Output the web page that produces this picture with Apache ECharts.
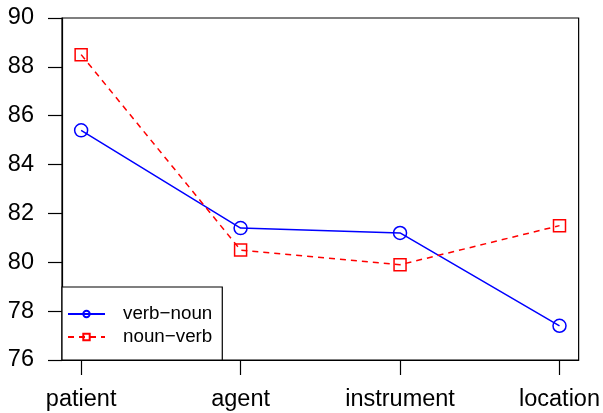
<!DOCTYPE html>
<html>
<head>
<meta charset="utf-8">
<script src="https://cdn.jsdelivr.net/npm/echarts@6/dist/echarts.min.js"></script>
<style>
html,body{margin:0;padding:0;background:#fff;}
#c{width:603px;height:413px;}
</style>
</head>
<body>
<div id="c"></div>
<script>
const categories = ['patient', 'agent', 'instrument', 'location'];
const verbNoun = [85.4, 81.4, 81.2, 77.4];
const nounVerb = [88.5, 80.5, 79.9, 81.5];
const yTicks = [76, 78, 80, 82, 84, 86, 88, 90];
const FONT = "'Liberation Sans', Arial, Helvetica, sans-serif";

const positions = categories.map((c, i) => i + 1);
const toData = arr => arr.map((v, i) => [positions[i], v]);

const chart = echarts.init(document.getElementById('c'), null, {renderer: 'canvas'});
chart.setOption({
  backgroundColor: '#fff',
  animation: false,
  grid: {left: 62, right: 22, top: 18, bottom: 53, show: true, borderColor: '#000', borderWidth: 1.2, backgroundColor: 'transparent'},
  xAxis: {
    type: 'value', min: 0.88, max: 4.12,
    axisLine: {show: true, lineStyle: {color: '#000', width: 1.2}},
    axisTick: {show: true, customValues: positions, length: 15, lineStyle: {color: '#000', width: 1.2}},
    axisLabel: {customValues: positions, formatter: v => categories[Math.round(v) - 1] || '', color: '#000', fontSize: 23.5, fontFamily: FONT, margin: 28},
    splitLine: {show: false}
  },
  yAxis: {
    type: 'value', min: yTicks[0], max: yTicks[yTicks.length - 1], interval: 2,
    axisLine: {show: true, lineStyle: {color: '#000', width: 1.2}},
    axisTick: {show: true, length: 14, lineStyle: {color: '#000', width: 1.2}},
    axisLabel: {color: '#000', fontSize: 23.5, fontFamily: FONT, margin: 28},
    splitLine: {show: false}
  },
  legend: {
    orient: 'vertical', left: 62, top: 287,
    padding: [17.5, 10, 13.5, 5],
    itemGap: 4, itemWidth: 37, itemHeight: 8,
    borderColor: '#000', borderWidth: 1.2, borderRadius: 0, backgroundColor: '#fff',
    textStyle: {color: '#000', fontSize: 18.8, fontFamily: FONT, padding: [0, 0, 0, 13]},
    data: ['verb\u2212noun', 'noun\u2212verb']
  },
  series: [
    {
      name: 'verb\u2212noun', type: 'line', data: toData(verbNoun),
      symbol: 'circle', symbolSize: 13,
      lineStyle: {color: '#0000FF', width: 1.5, type: 'solid'},
      itemStyle: {color: 'rgba(0,0,0,0)', borderColor: '#0000FF', borderWidth: 1.5},
      emphasis: {disabled: true}
    },
    {
      name: 'noun\u2212verb', type: 'line', data: toData(nounVerb),
      symbol: 'rect', symbolSize: 12,
      lineStyle: {color: '#FF0000', width: 1.5, type: [6, 5]},
      itemStyle: {color: 'rgba(0,0,0,0)', borderColor: '#FF0000', borderWidth: 1.5},
      emphasis: {disabled: true}
    }
  ]
});
</script>
</body>
</html>
